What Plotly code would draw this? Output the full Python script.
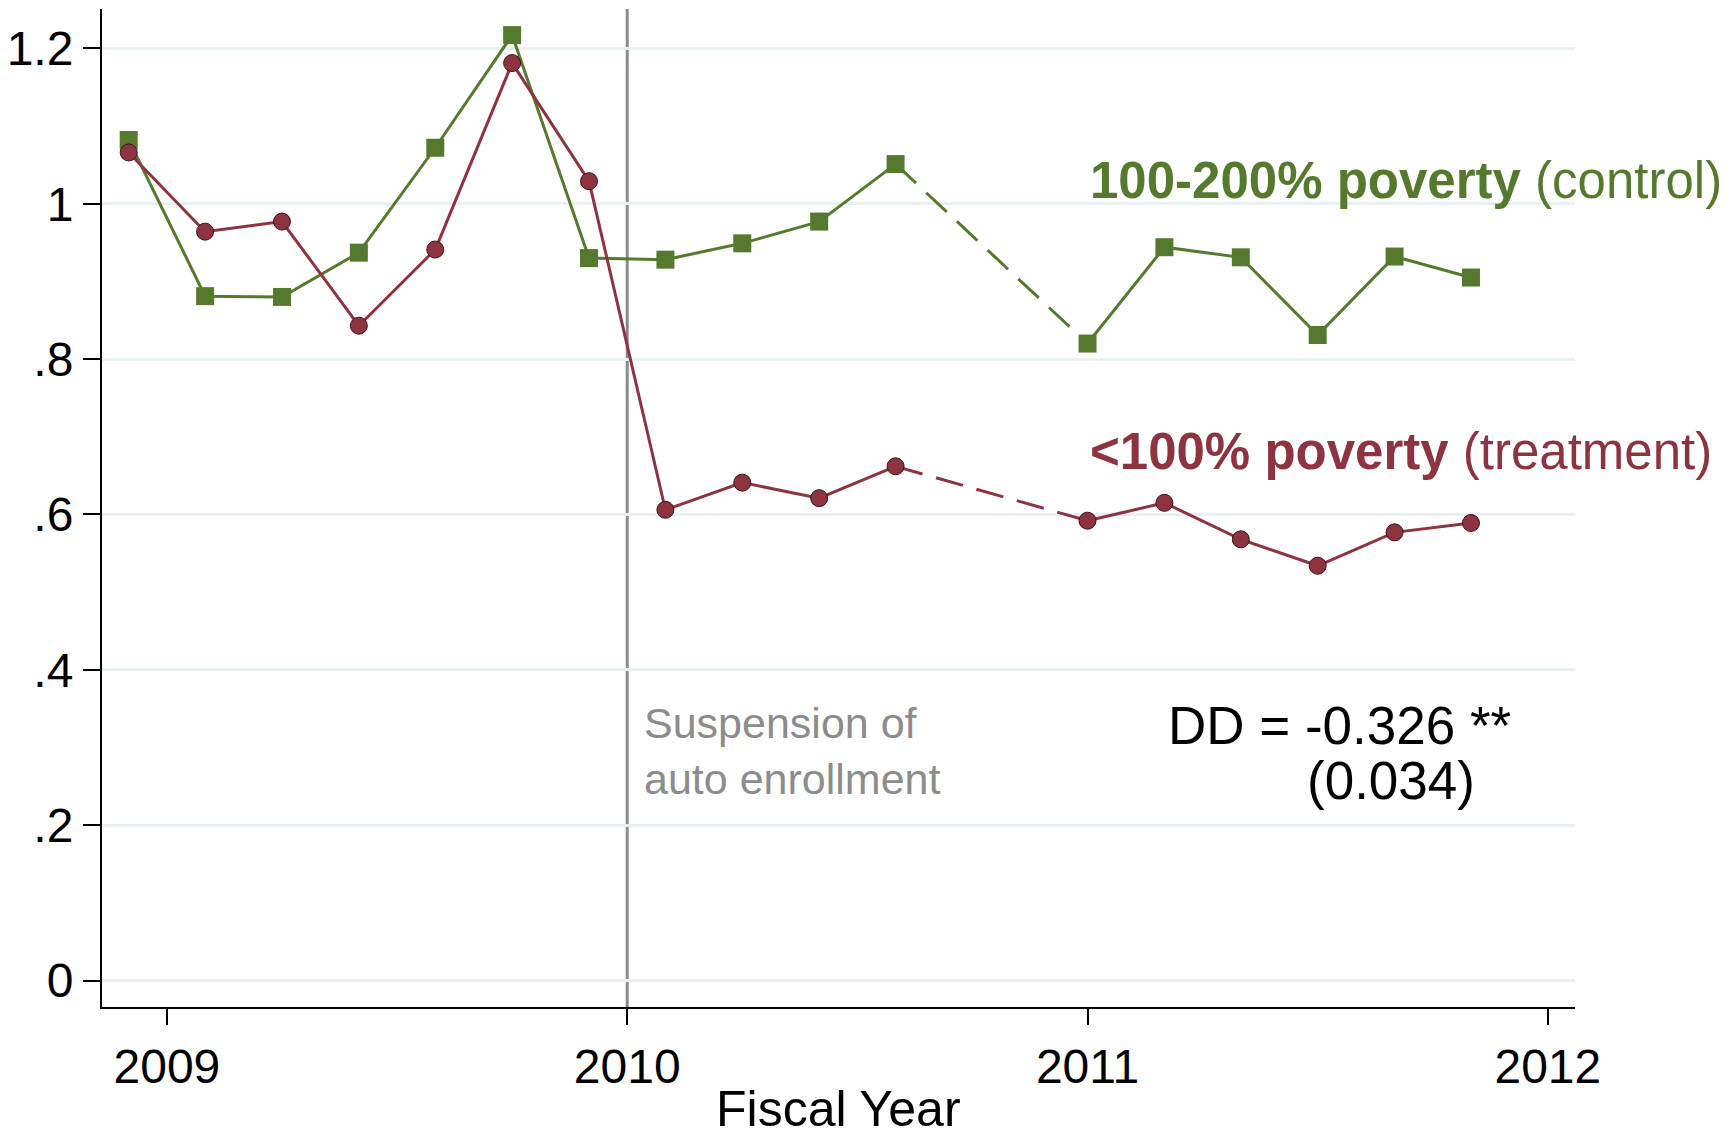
import plotly.graph_objects as go

# Bimonthly observation dates (decimal fiscal year)
dates = [2008.917, 2009.083, 2009.25, 2009.417, 2009.583, 2009.75, 2009.917,
         2010.083, 2010.25, 2010.417, 2010.583,
         2011.0, 2011.167, 2011.333, 2011.5, 2011.667, 2011.833]

control = [1.082, 0.881, 0.880, 0.937, 1.072, 1.217, 0.930,
           0.928, 0.949, 0.977, 1.051,
           0.820, 0.944, 0.931, 0.831, 0.932, 0.905]

treatment = [1.066, 0.964, 0.977, 0.843, 0.941, 1.181, 1.029,
             0.606, 0.641, 0.621, 0.662,
             0.592, 0.615, 0.568, 0.534, 0.577, 0.589]

x_ticks = [2009, 2010, 2011, 2012]
y_ticks = [0, 0.2, 0.4, 0.6, 0.8, 1.0, 1.2]
y_ticktext = ["0", ".2", ".4", ".6", ".8", "1", "1.2"]

GREEN = "#567a2d"
RED = "#8e3440"
GAP = 10  # index after which the series is bridged by a dashed segment

FONT = "Arial, 'Liberation Sans', sans-serif"

fig = go.Figure()

series = [
    (control, GREEN, dict(symbol="square", size=18, color=GREEN, line=dict(width=0))),
    (treatment, RED, dict(symbol="circle", size=17, color=RED, line=dict(width=1, color="#3a1418"))),
]

for vals, col, mk in series:
    # dashed bridge over the gap
    fig.add_trace(go.Scatter(x=dates[GAP:GAP + 2], y=vals[GAP:GAP + 2], mode="lines",
                             line=dict(color=col, width=3, dash="28px,14px"),
                             showlegend=False, hoverinfo="skip"))
    fig.add_trace(go.Scatter(x=dates[:GAP + 1], y=vals[:GAP + 1], mode="lines+markers",
                             line=dict(color=col, width=3), marker=mk, showlegend=False))
    fig.add_trace(go.Scatter(x=dates[GAP + 1:], y=vals[GAP + 1:], mode="lines+markers",
                             line=dict(color=col, width=3), marker=mk, showlegend=False))

fig.add_shape(type="line", x0=2010, x1=2010, xref="x", y0=0, y1=1, yref="paper",
              line=dict(color="#8a8a8a", width=3), layer="between")

annotations = [
    dict(x=2011.0, y=1.03, text="<b>100-200% poverty</b> (control)", font=dict(color=GREEN, size=51)),
    dict(x=2011.0, y=0.681, text="<b><100% poverty</b> (treatment)", font=dict(color=RED, size=51)),
    dict(x=2010.033, y=0.296, text="Suspension of<br>auto enrollment", font=dict(color="#8c8c8c", size=43)),
]
for a in annotations:
    fig.add_annotation(xref="x", yref="y", xanchor="left", yanchor="middle", showarrow=False,
                       align="left", x=a["x"], y=a["y"], text=a["text"],
                       font=dict(family=FONT, **a["font"]))

fig.add_annotation(xref="paper", yref="paper", xanchor="left", yanchor="middle", showarrow=False,
                   x=(1166 - 102) / 1473, y=(1007 - 725) / 998, text="DD = -0.326 **",
                   font=dict(family=FONT, size=53, color="black"))
fig.add_annotation(xref="paper", yref="paper", xanchor="left", yanchor="middle", showarrow=False,
                   x=(1305 - 102) / 1473, y=(1007 - 780) / 998, text="(0.034)",
                   font=dict(family=FONT, size=53, color="black"))

# x-axis title
fig.add_annotation(xref="paper", yref="paper", xanchor="center", yanchor="middle", showarrow=False,
                   x=0.5, y=(1007 - 1109) / 998, text="Fiscal Year",
                   font=dict(family=FONT, size=50, color="black"))

fig.update_layout(
    width=1735, height=1131,
    margin=dict(l=102, r=160, t=9, b=124, autoexpand=False),
    paper_bgcolor="white", plot_bgcolor="white",
    font=dict(family=FONT, color="black"),
    showlegend=False,
)

fig.update_xaxes(
    range=[2008.859, 2012.059], tickvals=x_ticks, ticktext=[str(t) for t in x_ticks],
    showgrid=False, zeroline=False, showline=True, linecolor="black", linewidth=2,
    ticks="outside", ticklen=16, tickwidth=2, tickcolor="black", automargin=False,
    tickfont=dict(size=48, family=FONT), ticklabelstandoff=0,
)
fig.update_yaxes(
    range=[-0.0339, 1.2506], tickvals=y_ticks, ticktext=y_ticktext,
    showgrid=True, gridcolor="#e8f0f2", gridwidth=3, zeroline=False,
    showline=True, linecolor="black", linewidth=2, automargin=False,
    ticks="outside", ticklen=17, tickwidth=2, tickcolor="black",
    tickfont=dict(size=48, family=FONT),
)

fig.write_html("out.html")
